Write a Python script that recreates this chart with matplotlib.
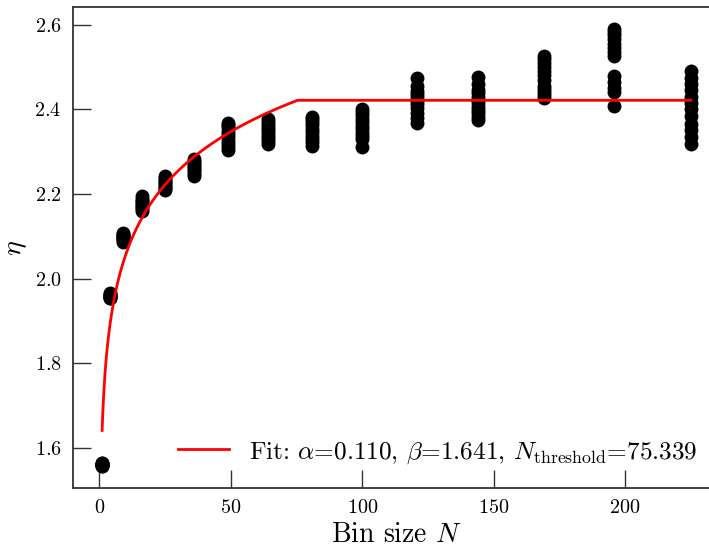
import numpy as np
import matplotlib
matplotlib.use("Agg")
import matplotlib.pyplot as plt

plt.rcParams.update({
    "font.family": "serif",
    "font.serif": ["cmr10"],
    "mathtext.fontset": "cm",
    "axes.formatter.use_mathtext": True,
    "axes.unicode_minus": False,
})

# Bin sizes (square bins) and the measured exponent eta for each realisation
bin_sizes = [1, 4, 9, 16, 25, 36, 49, 64, 81, 100, 121, 144, 169, 196, 225]
eta_values = [
    [1.556, 1.558, 1.559, 1.560, 1.561, 1.562, 1.563, 1.564],
    [1.953, 1.955, 1.957, 1.958, 1.959, 1.961, 1.963, 1.965],
    [2.087, 2.090, 2.093, 2.095, 2.098, 2.100, 2.103, 2.106, 2.108],
    [2.159, 2.164, 2.168, 2.172, 2.176, 2.180, 2.184, 2.189, 2.194],
    [2.209, 2.213, 2.217, 2.221, 2.225, 2.229, 2.233, 2.237, 2.242],
    [2.243, 2.248, 2.253, 2.258, 2.263, 2.268, 2.273, 2.278, 2.282],
    [2.304, 2.311, 2.318, 2.326, 2.334, 2.341, 2.349, 2.357, 2.362, 2.368],
    [2.319, 2.325, 2.331, 2.338, 2.344, 2.350, 2.356, 2.362, 2.369, 2.376],
    [2.314, 2.322, 2.330, 2.338, 2.346, 2.354, 2.362, 2.370, 2.376, 2.382],
    [2.310, 2.330, 2.337, 2.345, 2.353, 2.361, 2.370, 2.378, 2.386, 2.394, 2.401],
    [2.367, 2.380, 2.392, 2.402, 2.412, 2.420, 2.428, 2.436, 2.444, 2.455, 2.474],
    [2.374, 2.382, 2.390, 2.398, 2.406, 2.414, 2.422, 2.430, 2.438, 2.446, 2.460, 2.476],
    [2.426, 2.433, 2.440, 2.447, 2.455, 2.470, 2.480, 2.490, 2.500, 2.510, 2.518, 2.525],
    [2.408, 2.440, 2.450, 2.465, 2.478, 2.525, 2.535, 2.545, 2.555, 2.565, 2.575, 2.583, 2.590],
    [2.318, 2.335, 2.350, 2.365, 2.385, 2.400, 2.415, 2.430, 2.445, 2.460, 2.475, 2.491],
]

# Fit parameters: eta = beta * (1 + alpha ln N), saturating above N_threshold
alpha = 0.110
beta = 1.641
n_threshold = 75.339


def fit_curve(n):
    n_eff = np.minimum(n, n_threshold)
    return beta * (1.0 + alpha * np.log(n_eff))


fig = plt.figure(figsize=(7.09, 5.46), dpi=100)
ax = fig.add_axes([0.1025, 0.1057, 0.9132, 0.8815])

xs = np.concatenate([[n] * len(v) for n, v in zip(bin_sizes, eta_values)])
ys = np.concatenate(eta_values)
ax.scatter(xs, ys, s=81, color="black", zorder=2)

n_grid = np.unique(np.concatenate([np.linspace(bin_sizes[0], bin_sizes[-1], 2000), [n_threshold]]))
ax.plot(n_grid, fit_curve(n_grid), color="red", lw=2, zorder=3,
        label=rf"Fit: $\alpha$={alpha:.3f}, $\beta$={beta:.3f}, $N_{{\rm threshold}}$={n_threshold:.3f}")

ax.set_xlabel(r"Bin size $N$", fontsize=20, labelpad=3)
ax.set_ylabel(r"$\eta$", fontsize=20)
ax.set_yticks([1.6, 1.8, 2.0, 2.2, 2.4, 2.6])
ax.set_xticks([0, 50, 100, 150, 200])
ax.tick_params(direction="in", length=13, width=1, colors="#333333",
               labelcolor="black", labelsize=14.5, pad=8)
for sp in ax.spines.values():
    sp.set_color("#333333")
    sp.set_linewidth(1.3)

ax.legend(loc="lower right", frameon=False, fontsize=18.2, handlelength=2.0)

fig.savefig("out.png", dpi=100)
